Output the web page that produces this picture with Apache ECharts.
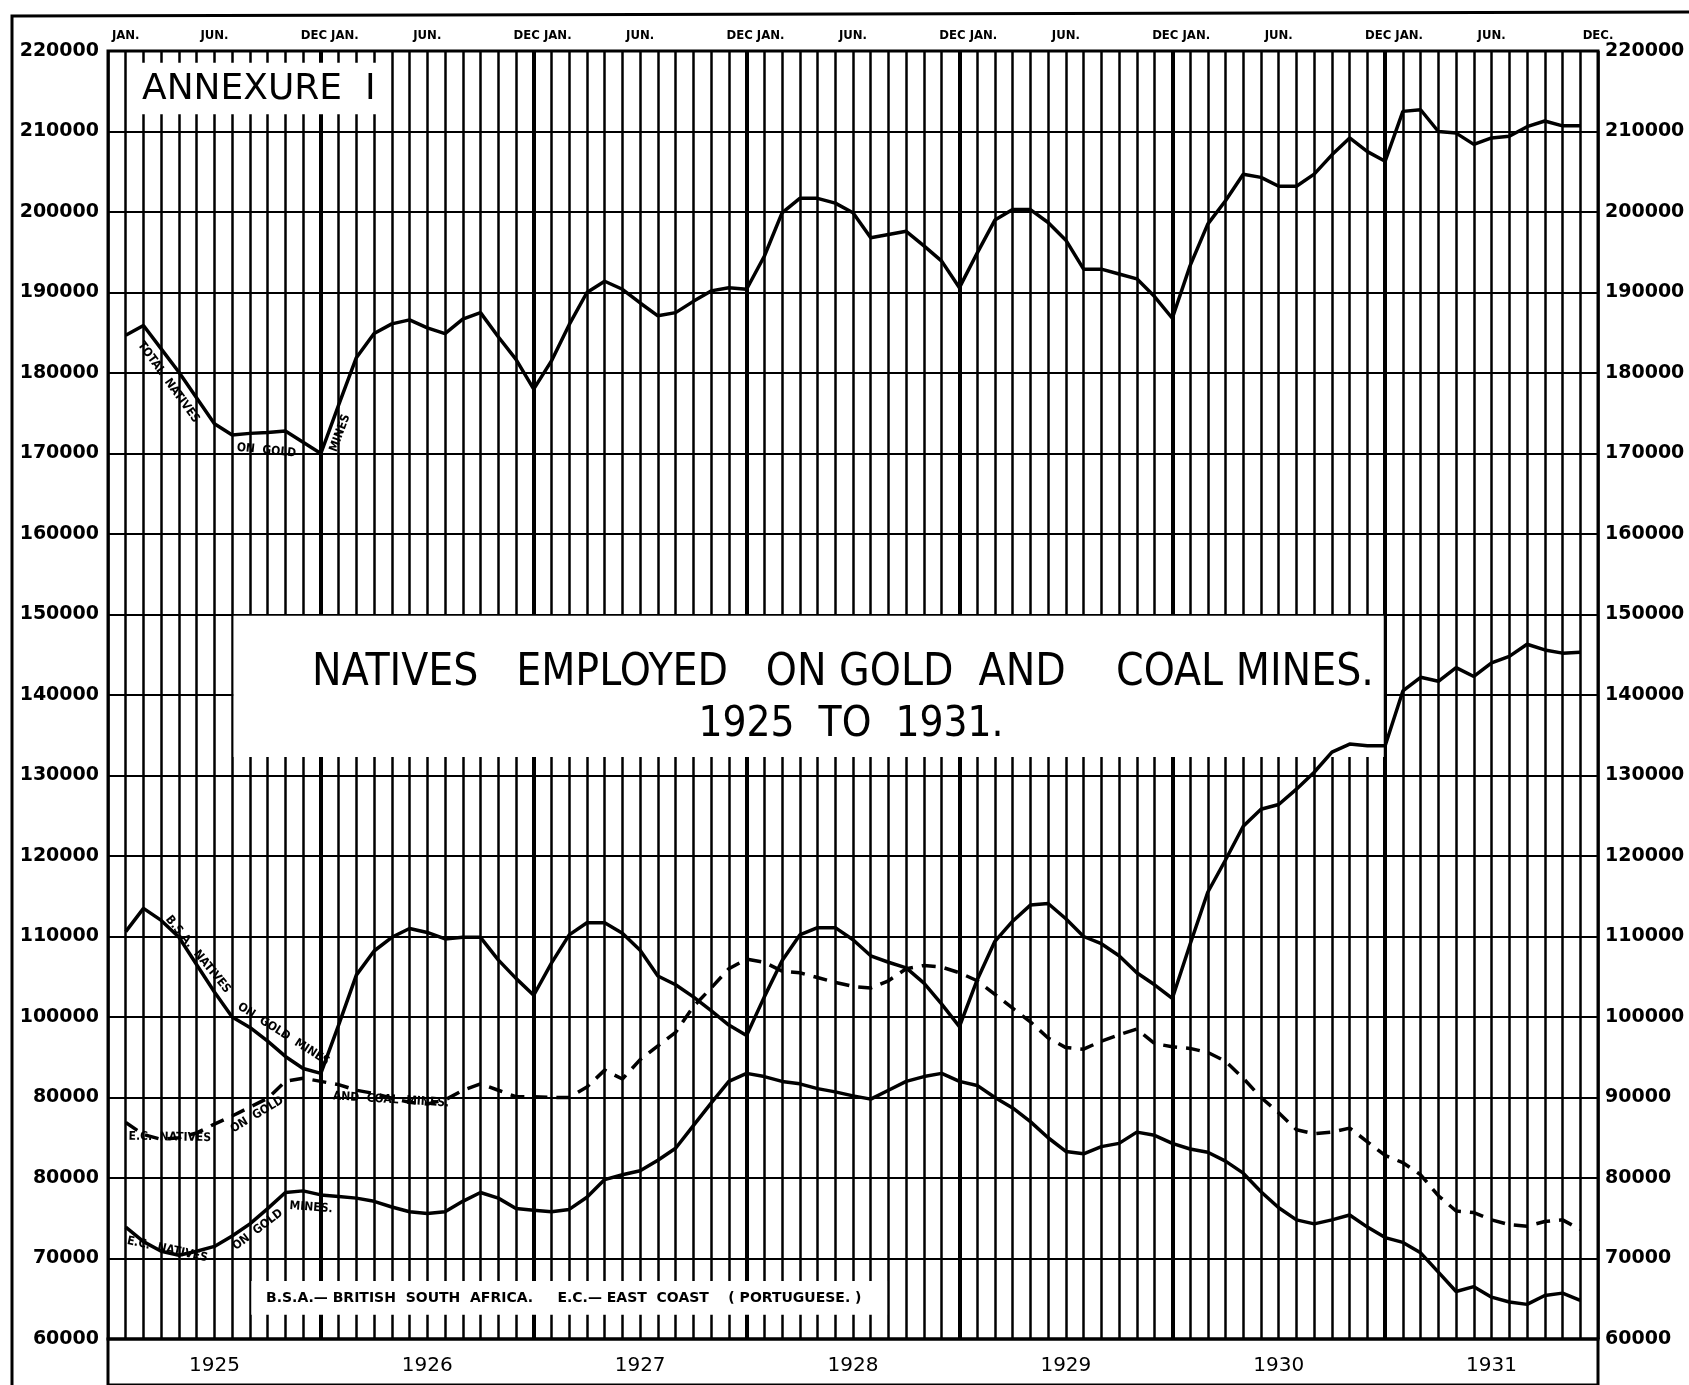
<!DOCTYPE html>
<html>
<head>
<meta charset="utf-8">
<title>Natives employed on gold and coal mines 1925 to 1931</title>
<script src="https://cdn.jsdelivr.net/npm/echarts@6/dist/echarts.min.js"></script>
<style>
  html, body { margin: 0; padding: 0; background: #fff; }
  #chart { width: 1689px; height: 1385px; }
</style>
</head>
<body>
<div id="chart"></div>
<script>
// one point per month, Jan 1925 .. Nov 1931 (the sheet stops before Dec 1931)
const years = ['1925', '1926', '1927', '1928', '1929', '1930', '1931'];
const monthNames = ['JAN', 'FEB', 'MAR', 'APR', 'MAY', 'JUN', 'JUL', 'AUG', 'SEP', 'OCT', 'NOV', 'DEC'];
const months = [];
years.forEach(y => monthNames.forEach(m => months.push(m + ' ' + y)));
months.length = 83;

const totalGold = [
  184700, 185900, 183000, 180100, 176900, 173700, 172300, 172500, 172600, 172800, 171400, 170000,
  176000, 181900, 184900, 186100, 186600, 185600, 184900, 186700, 187500, 184500, 181700, 178000,
  181500, 186000, 190000, 191400, 190400, 188700, 187100, 187500, 188900, 190200, 190600, 190400,
  194500, 199900, 201700, 201700, 201100, 199900, 196800, 197200, 197600, 195800, 193900, 190600,
  194900, 199000, 200300, 200300, 198700, 196500, 192900, 192900, 192300, 191700, 189500, 186800,
  193300, 198500, 201400, 204700, 204300, 203200, 203200, 204700, 207100, 209200, 207500, 206300,
  212500, 212700, 210000, 209800, 208400, 209200, 209400, 210600, 211300, 210700, 210700
];
const bsaGold = [
  110600, 113500, 112000, 109900, 106500, 103100, 100000, 98700, 97000, 95100, 93600, 93000,
  99000, 105200, 108200, 109900, 111000, 110500, 109700, 109900, 109900, 107100, 104800, 102700,
  106700, 110200, 111700, 111700, 110400, 108300, 105100, 104000, 102500, 100800, 99000, 97700,
  102500, 107000, 110200, 111100, 111100, 109600, 107600, 106800, 106100, 104200, 101600, 98800,
  104600, 109400, 111900, 113900, 114100, 112200, 110000, 109100, 107600, 105500, 104000, 102300,
  109000, 115500, 119500, 123700, 125800, 126400, 128300, 130400, 132900, 133900, 133700, 133700,
  140500, 142200, 141700, 143400, 142300, 144000, 144800, 146300, 145600, 145200, 145300
];
const ecGoldCoal = [
  86900, 85400, 84800, 85000, 85600, 86700, 87700, 88800, 89900, 92000, 92400, 92000,
  91600, 90900, 90500, 89900, 89400, 89200, 89700, 90900, 91700, 90900, 90100, 90100,
  90000, 90000, 91300, 93400, 92300, 94700, 96400, 98100, 101300, 103600, 106000, 107200,
  106800, 105700, 105500, 104900, 104300, 103800, 103600, 104500, 106000, 106400, 106200, 105500,
  104500, 102800, 101100, 99400, 97400, 96200, 96000, 97000, 97800, 98500, 96700, 96300,
  96100, 95600, 94500, 92400, 90000, 88100, 86000, 85500, 85700, 86200, 84500, 82800,
  81900, 80400, 77800, 75900, 75700, 74800, 74200, 74000, 74600, 74800, 73600
];
const ecGold = [
  73900, 72100, 70900, 70400, 70900, 71500, 72800, 74300, 76200, 78200, 78400, 77900,
  77700, 77500, 77100, 76400, 75800, 75600, 75800, 77100, 78200, 77500, 76200, 76000,
  75800, 76100, 77600, 79800, 80400, 80900, 82200, 83700, 86500, 89300, 92000, 93000,
  92600, 92000, 91700, 91100, 90700, 90200, 89800, 90900, 92000, 92600, 93000, 92000,
  91500, 90000, 88700, 87000, 85000, 83300, 83000, 83900, 84300, 85700, 85300, 84300,
  83600, 83200, 82100, 80600, 78300, 76300, 74800, 74300, 74800, 75400, 73900, 72600,
  72000, 70700, 68300, 65900, 66500, 65200, 64600, 64300, 65400, 65700, 64800
];

const yTickValues = [220000, 210000, 200000, 190000, 180000, 170000, 160000, 150000, 140000,
  130000, 120000, 110000, 100000, 90000, 80000, 70000, 60000];
const leftTickLabels = ['220000', '210000', '200000', '190000', '180000', '170000', '160000', '150000', '140000',
  '130000', '120000', '110000', '100000', '80000', '80000', '70000', '60000'];
const rightTickLabels = ['220000', '210000', '200000', '190000', '180000', '170000', '160000', '150000', '140000',
  '130000', '120000', '110000', '100000', '90000', '80000', '70000', '60000'];

// month slots on the x scale: Jan 1925 = 1 ... Dec 1931 = 84
const topLabelPos = [1, 6, 12.5, 18, 24.5, 30, 36.5, 42, 48.5, 54, 60.5, 66, 72.5, 78, 84];
const topLabelText = ['JAN.', 'JUN.', 'DEC JAN.', 'JUN.', 'DEC JAN.', 'JUN.', 'DEC JAN.', 'JUN.',
  'DEC JAN.', 'JUN.', 'DEC JAN.', 'JUN.', 'DEC JAN.', 'JUN.', 'DEC.'];
const yearEnds = [12, 24, 36, 48, 60, 72];

const FONT = "'DejaVu Sans', 'Liberation Sans', sans-serif";
const NARROW = "'DejaVu Sans Condensed', 'Liberation Sans Narrow', 'DejaVu Sans', sans-serif";

function pairs(vals) {
  return vals.map((v, i) => [i + 1, v]);
}

let chart = echarts.init(document.getElementById('chart'));

chart.setOption({
  animation: false,
  backgroundColor: '#fff',
  grid: [
    { left: 108, top: 51, width: 1490, height: 1288, show: true, borderColor: '#000', borderWidth: 3,
      containLabel: false, outerBoundsMode: 'none' },
    { left: 108, top: 1339, width: 1490, height: 46, show: true, borderColor: '#000', borderWidth: 3,
      containLabel: false, outerBoundsMode: 'none' }
  ],
  xAxis: [
    {
      type: 'value', gridIndex: 0, min: 0, max: 84, interval: 1, position: 'bottom', z: 0,
      axisLine: { show: false }, axisTick: { show: false }, axisLabel: { show: false },
      splitLine: { show: true, lineStyle: { color: '#000', width: 2.5 } }
    },
    {
      type: 'value', gridIndex: 0, min: 0, max: 84, interval: 0.5, position: 'top', z: 0,
      axisLine: { show: false }, axisTick: { show: false }, splitLine: { show: false },
      axisLabel: {
        show: true, margin: 9, color: '#000', fontSize: 13, fontWeight: 'bold', fontFamily: NARROW,
        showMinLabel: true, showMaxLabel: true,
        formatter: function (v) {
          let k = topLabelPos.indexOf(Math.round(v * 2) / 2);
          return k < 0 ? '' : topLabelText[k];
        }
      }
    },
    {
      type: 'category', gridIndex: 1, data: years, position: 'top', boundaryGap: true, z: 0,
      axisLine: { show: false },
      axisTick: { show: true, inside: true, length: 46, lineStyle: { color: '#000', width: 3 } },
      splitLine: { show: false },
      axisLabel: { inside: true, interval: 0, margin: 17, color: '#000', fontSize: 20, fontFamily: FONT }
    }
  ],
  yAxis: [
    {
      type: 'value', gridIndex: 0, min: 60000, max: 220000, interval: 10000, position: 'left', z: 0,
      axisLine: { show: false }, axisTick: { show: false },
      splitLine: { show: true, lineStyle: { color: '#000', width: 2 } },
      axisLabel: {
        margin: 9, color: '#000', fontSize: 19, fontWeight: 'bold', fontFamily: FONT,
        formatter: v => leftTickLabels[yTickValues.indexOf(v)]
      }
    },
    {
      type: 'value', gridIndex: 0, min: 60000, max: 220000, interval: 10000, position: 'right', z: 0,
      axisLine: { show: false }, axisTick: { show: false }, splitLine: { show: false },
      axisLabel: {
        margin: 7, color: '#000', fontSize: 19, fontWeight: 'bold', fontFamily: FONT,
        formatter: v => rightTickLabels[yTickValues.indexOf(v)]
      }
    },
    { type: 'value', gridIndex: 1, show: false }
  ],
  series: [
    {
      name: 'Total natives on gold mines', type: 'line', xAxisIndex: 0, yAxisIndex: 0,
      data: pairs(totalGold), symbol: 'none', z: 3,
      lineStyle: { color: '#000', width: 3.5 },
      // heavy year lines, kept under the white panels
      markLine: {
        z: 1, silent: true, symbol: 'none', label: { show: false },
        lineStyle: { color: '#000', width: 4, type: 'solid' },
        data: yearEnds.map(v => ({ xAxis: v }))
      },
      // white panels for the lettering
      markArea: {
        z: 2, silent: true, itemStyle: { color: '#fff' },
        data: [
          [{ coord: [1.08, 218550] }, { coord: [15.85, 212150] }],
          [{ coord: [7.08, 149850] }, { coord: [71.92, 132300] }],
          [{ coord: [8.08, 67200] }, { coord: [43.92, 63000] }]
        ]
      }
    },
    {
      name: 'B.S.A. natives on gold mines', type: 'line', xAxisIndex: 0, yAxisIndex: 0,
      data: pairs(bsaGold), symbol: 'none', z: 3,
      lineStyle: { color: '#000', width: 3.5 }
    },
    {
      name: 'E.C. natives on gold and coal mines', type: 'line', xAxisIndex: 0, yAxisIndex: 0,
      data: pairs(ecGoldCoal), symbol: 'none', z: 3,
      lineStyle: { color: '#000', width: 3.5, type: [14, 9] }
    },
    {
      name: 'E.C. natives on gold mines', type: 'line', xAxisIndex: 0, yAxisIndex: 0,
      data: pairs(ecGold), symbol: 'none', z: 3,
      lineStyle: { color: '#000', width: 3.5 }
    }
  ]
});

// lettering written along the curves
function along(vals, i0, i1, text, offset) {
  let p0 = chart.convertToPixel({ xAxisIndex: 0, yAxisIndex: 0 }, [i0 + 1, vals[i0]]);
  let p1 = chart.convertToPixel({ xAxisIndex: 0, yAxisIndex: 0 }, [i1 + 1, vals[i1]]);
  let dx = p1[0] - p0[0], dy = p1[1] - p0[1];
  let len = Math.hypot(dx, dy);
  let nx = -dy / len, ny = dx / len;
  return {
    type: 'text', z: 100,
    x: (p0[0] + p1[0]) / 2 + nx * offset,
    y: (p0[1] + p1[1]) / 2 + ny * offset,
    rotation: -Math.atan2(dy, dx),
    style: { text: text, fill: '#000', font: 'bold 12px ' + NARROW, align: 'center', verticalAlign: 'middle' }
  };
}

chart.setOption({
  graphic: {
    elements: [
      { type: 'polyline', z: 100, shape: { points: [[12, 1385], [12, 16], [1689, 12]] },
        style: { stroke: '#000', lineWidth: 3, fill: null } },
      { type: 'text', z: 100, x: 142, y: 90,
        style: { text: 'ANNEXURE  I', fill: '#000', font: '36px ' + FONT, align: 'left', verticalAlign: 'middle' } },
      { type: 'text', z: 100, x: 843, y: 674,
        style: { text: 'NATIVES   EMPLOYED   ON GOLD  AND    COAL MINES.', fill: '#000', font: '44px ' + NARROW,
          align: 'center', verticalAlign: 'middle' } },
      { type: 'text', z: 100, x: 851, y: 725,
        style: { text: '1925  TO  1931.', fill: '#000', font: '42px ' + NARROW, align: 'center', verticalAlign: 'middle' } },
      { type: 'text', z: 100, x: 266, y: 1298,
        style: { text: 'B.S.A.— BRITISH  SOUTH  AFRICA.     E.C.— EAST  COAST    ( PORTUGUESE. )', fill: '#000',
          font: 'bold 14px ' + FONT, align: 'left', verticalAlign: 'middle' } },
      along(totalGold, 1, 5, 'TOTAL  NATIVES', 13),
      along(totalGold, 6, 10, 'ON  GOLD', 12),
      along(totalGold, 11, 12, 'MINES', 11),
      along(bsaGold, 1, 6, 'B.S.A.  NATIVES', -13),
      along(bsaGold, 6, 11, 'ON  GOLD  MINES', -13),
      along(ecGoldCoal, 0, 5, 'E.C.  NATIVES', 14),
      along(ecGoldCoal, 5, 9, 'ON  GOLD', 14),
      along(ecGoldCoal, 11, 19, 'AND  COAL  MINES.', 14),
      along(ecGold, 0, 5, 'E.C.  NATIVES', 13),
      along(ecGold, 5, 9, 'ON  GOLD', 13),
      along(ecGold, 9, 12, 'MINES.', 13)
    ]
  }
});
</script>
</body>
</html>
